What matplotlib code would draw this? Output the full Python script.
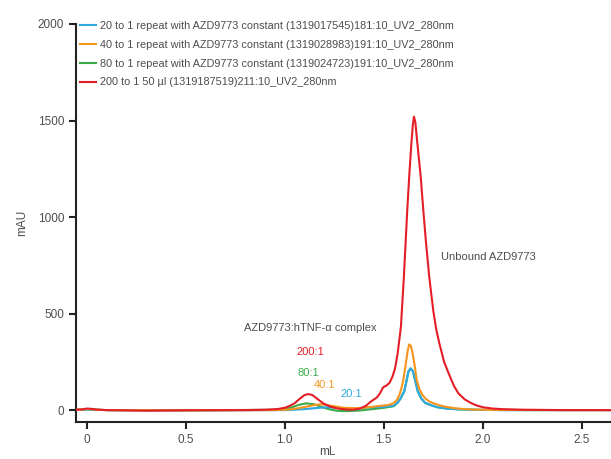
import numpy as np
import matplotlib
matplotlib.use("Agg")
import matplotlib.pyplot as plt

plt.rcParams['font.family'] = ['Liberation Sans', 'DejaVu Sans']

# Хроматограммы (мл, mAU)
x_red = [-0.06, -0.02, 0.0, 0.02, 0.05, 0.1, 0.3, 0.5, 0.8, 0.9, 0.96, 1.0, 1.03, 1.052, 1.075,
         1.1, 1.119, 1.14, 1.165, 1.195, 1.23, 1.27, 1.31, 1.345, 1.38, 1.41, 1.43, 1.45,
         1.465, 1.48, 1.497, 1.515, 1.53, 1.545, 1.557, 1.57, 1.587, 1.602, 1.619, 1.63,
         1.64, 1.647, 1.653, 1.66, 1.67, 1.687, 1.70, 1.714, 1.73, 1.75, 1.765, 1.781,
         1.805, 1.835, 1.855, 1.877, 1.91, 1.944, 1.97, 2.0, 2.05, 2.1, 2.2, 2.4, 2.7]
y_red = [2, 4, 8, 7, 3, 0, -3, -1, 0, 2, 5, 12, 24, 37, 58,
         78, 83, 78, 58, 35, 18, 8, 3, 2, 8, 22, 40, 55,
         65, 85, 118, 128, 142, 175, 215, 290, 432, 691, 1036, 1230,
         1382, 1475, 1520, 1490, 1382, 1209, 1036, 864, 691, 518, 420, 346,
         250, 173, 125, 87, 55, 35, 24, 15, 8, 5, 2, 0, 0]

x_orange = [-0.06, -0.02, 0.0, 0.02, 0.05, 0.1, 0.5, 0.95, 1.02, 1.07, 1.12, 1.15, 1.178,
            1.21, 1.25, 1.3, 1.35, 1.4, 1.45, 1.48, 1.52, 1.549, 1.566, 1.58, 1.59, 1.599,
            1.61, 1.62, 1.628, 1.636, 1.645, 1.655, 1.667, 1.68, 1.695, 1.709, 1.73, 1.76,
            1.80, 1.85, 1.9, 1.95, 2.05, 2.7]
y_orange = [1, 3, 6, 5, 2, 0, -1, 0, 3, 10, 20, 26, 30,
            27, 20, 12, 10, 12, 18, 22, 26, 35, 52, 80, 115, 155,
            230, 300, 340, 335, 300, 240, 155, 110, 80, 62, 45, 32,
            20, 11, 6, 3, 1, 0]

x_green = [-0.06, 0.0, 0.1, 0.5, 0.98, 1.03, 1.07, 1.11, 1.15, 1.19, 1.23, 1.27, 1.32, 1.38,
           1.45, 1.5, 1.55, 1.57, 1.585, 1.604, 1.615, 1.625, 1.636, 1.648, 1.66, 1.672,
           1.69, 1.709, 1.74, 1.77, 1.82, 1.88, 1.95, 2.1, 2.7]
y_green = [1, 4, 0, -1, 2, 12, 27, 35, 30, 15, 3, -4, -5, -2,
           6, 12, 20, 38, 60, 98, 150, 200, 216, 200, 150, 98,
           60, 38, 25, 15, 8, 4, 2, 0, 0]

x_blue = [-0.06, 0.0, 0.1, 0.5, 1.0, 1.05, 1.1, 1.15, 1.21, 1.26, 1.3, 1.35, 1.4, 1.45, 1.5,
          1.55, 1.57, 1.585, 1.604, 1.615, 1.625, 1.636, 1.648, 1.66, 1.672, 1.69, 1.709,
          1.74, 1.77, 1.82, 1.88, 1.95, 2.1, 2.7]
y_blue = [1, 3, 0, -1, 0, 2, 5, 10, 15, 12, 9, 9, 12, 15, 17,
          22, 38, 60, 98, 150, 200, 216, 200, 150, 98, 60, 38,
          25, 15, 8, 4, 2, 0, 0]

labels = ["20 to 1 repeat with AZD9773 constant (1319017545)181:10_UV2_280nm",
          "40 to 1 repeat with AZD9773 constant (1319028983)191:10_UV2_280nm",
          "80 to 1 repeat with AZD9773 constant (1319024723)191:10_UV2_280nm",
          "200 to 1 50 µl (1319187519)211:10_UV2_280nm"]

c_blue = '#2ea8e0'
c_orange = '#f7941d'
c_green = '#3bab48'
c_red = '#e31e26'
txt = '#4d4d4d'

fig = plt.figure(figsize=(6.11, 4.59), dpi=100)
ax = fig.add_axes([76 / 611, 1 - 421.7 / 459, 1 - 76 / 611, (421.7 - 24) / 459])

l_green, = ax.plot(x_green, y_green, color=c_green, lw=1.5, zorder=2)
l_blue, = ax.plot(x_blue, y_blue, color=c_blue, lw=1.5, zorder=3)
l_orange, = ax.plot(x_orange, y_orange, color=c_orange, lw=1.5, zorder=4)
l_red, = ax.plot(x_red, y_red, color=c_red, lw=1.5, zorder=5)

ax.set_xlim(-0.054, 2.648)
ax.set_ylim(-60, 2000)
ax.set_xticks([0, 0.5, 1.0, 1.5, 2.0, 2.5])
ax.set_xticklabels(['0', '0.5', '1.0', '1.5', '2.0', '2.5'])
ax.set_yticks([0, 500, 1000, 1500, 2000])

for s in ['top', 'right']:
    ax.spines[s].set_visible(False)
for s in ['left', 'bottom']:
    ax.spines[s].set_linewidth(1.5)
    ax.spines[s].set_color('#222222')
ax.tick_params(direction='out', length=5, width=1.5, color='#222222',
               labelcolor=txt, labelsize=8.5)

ax.set_xlabel('mL', fontsize=8.5, color=txt)
ax.xaxis.set_label_coords(0.469, -0.061)
ax.set_ylabel('mAU', fontsize=8.5, color=txt, labelpad=7)

ax.legend([l_blue, l_orange, l_green, l_red], labels, loc='upper left',
          bbox_to_anchor=(-0.011, 1.032), frameon=False, fontsize=7.8,
          handlelength=1.5, handletextpad=0.37, labelspacing=0.81,
          labelcolor=txt)

ax.text(1.127, 423, 'AZD9773:hTNF-α complex', fontsize=8, color=txt, ha='center', va='center')
ax.text(1.13, 300, '200:1', fontsize=8, color=c_red, ha='center', va='center')
ax.text(1.12, 190, '80:1', fontsize=8, color=c_green, ha='center', va='center')
ax.text(1.2, 130, '40:1', fontsize=8, color=c_orange, ha='center', va='center')
ax.text(1.335, 82, '20:1', fontsize=8, color=c_blue, ha='center', va='center')
ax.text(2.03, 795, 'Unbound AZD9773', fontsize=8, color=txt, ha='center', va='center')

fig.savefig('out.png', dpi=100)
